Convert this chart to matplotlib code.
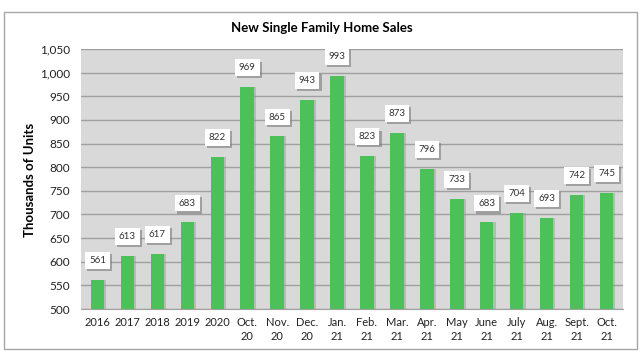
import matplotlib
matplotlib.use("Agg")
import matplotlib.pyplot as plt
from matplotlib.patches import Rectangle
import matplotlib.patheffects as pe

categories = ["2016", "2017", "2018", "2019", "2020", "Oct.\n20", "Nov.\n20", "Dec.\n20",
              "Jan.\n21", "Feb.\n21", "Mar.\n21", "Apr.\n21", "May\n21", "June\n21",
              "July\n21", "Aug.\n21", "Sept.\n21", "Oct.\n21"]
values = [561, 613, 617, 683, 822, 969, 865, 943, 993, 823, 873, 796, 733, 683, 704, 693, 742, 745]
yticks = list(range(500, 1051, 50))

plt.rcParams['font.family'] = ['Lato', 'DejaVu Sans']

fig = plt.figure(figsize=(6.43, 3.55), dpi=100)
fig.patch.set_facecolor("white")
# outer border
fig.add_artist(Rectangle((4/643, 1-349/355), 633/643, (349-12)/355, transform=fig.transFigure,
                         fill=False, edgecolor="#a6a6a6", linewidth=1.0))

ax = fig.add_axes([81/643, 1-309/355, (623-81)/643, (309-49)/355])
ax.set_facecolor("#d9d9d9")
x = list(range(len(categories)))
ax.bar([xi + 0.07 for xi in x], [v - 500 for v in values], bottom=500, width=0.45,
       color="#8a9a8c", alpha=0.45, zorder=2)
ax.bar(x, values, width=0.45, color="#4cc159", zorder=3)
ax.set_ylim(500, 1050)
ax.set_xlim(-0.55, len(categories) - 0.45)
ax.set_yticks(yticks)
ax.set_yticklabels([f"{v:,}" for v in yticks], fontsize=8.5, color="#222222")
ax.yaxis.grid(True, color="#a0a0a0", linewidth=1.0, zorder=1)
ax.set_axisbelow(True)
ax.set_xticks(x)
ax.set_xticklabels(categories, fontsize=8, linespacing=1.35, color="#222222")
ax.tick_params(axis="both", length=0)
ax.tick_params(axis="x", pad=6)
ax.tick_params(axis="y", pad=8)
for s in ["top", "right", "left"]:
    ax.spines[s].set_visible(False)
ax.spines["bottom"].set_color("#a0a0a0")

for xi, v in zip(x, values):
    ann = ax.annotate(str(v), (xi, v), xytext=(0, 14), textcoords="offset points",
                      ha="center", va="center", fontsize=7, color="#333333", zorder=5,
                      bbox=dict(boxstyle="square,pad=0.4", facecolor="white", edgecolor="none"))
    ann.get_bbox_patch().set_path_effects(
        [pe.withSimplePatchShadow(offset=(1.5, -1.5), shadow_rgbFace="#7a7a7a", alpha=0.6), pe.Normal()])

fig.text(0.5, 1-28/355, "New Single Family Home Sales", ha="center", va="center",
         fontsize=9.5, fontweight="bold")
fig.text(30/643, 1-180/355, "Thousands of Units", ha="center", va="center",
         rotation=90, fontsize=9.5, fontweight="bold")

fig.savefig("out.png", dpi=100)
